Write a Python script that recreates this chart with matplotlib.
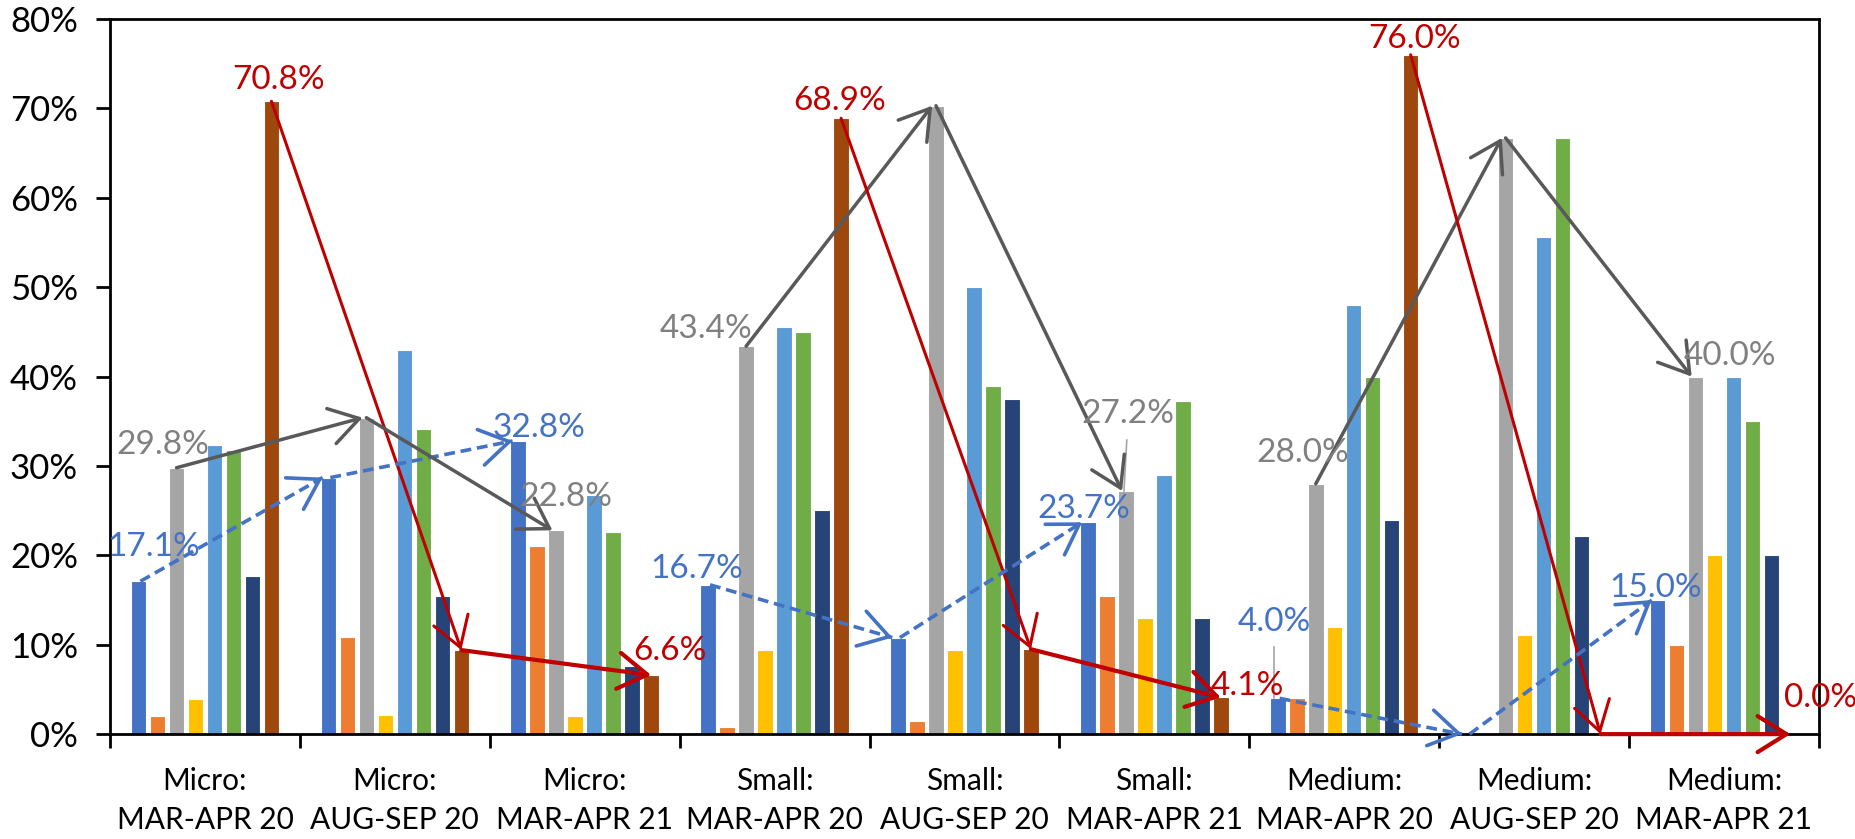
import matplotlib
matplotlib.use("Agg")
import matplotlib.pyplot as plt
import numpy as np

plt.rcParams['font.family'] = ['Lato', 'DejaVu Sans']

groups = ["Micro:\nMAR-APR 20", "Micro:\nAUG-SEP 20", "Micro:\nMAR-APR 21",
          "Small:\nMAR-APR 20", "Small:\nAUG-SEP 20", "Small:\nMAR-APR 21",
          "Medium:\nMAR-APR 20", "Medium:\nAUG-SEP 20", "Medium:\nMAR-APR 21"]

# eight series per group, values in percent
s_blue     = [17.1, 28.7, 32.8, 16.7, 10.8, 23.7, 4.0, 0.0, 15.0]
s_orange   = [2.0, 10.9, 21.0, 0.8, 1.5, 15.4, 4.0, 0.0, 10.0]
s_gray     = [29.8, 35.4, 22.8, 43.4, 70.3, 27.2, 28.0, 66.7, 40.0]
s_yellow   = [3.9, 2.1, 2.0, 9.4, 9.4, 13.0, 12.0, 11.1, 20.0]
s_ltblue   = [32.4, 43.0, 26.8, 45.6, 50.0, 29.0, 48.0, 55.6, 40.0]
s_green    = [31.8, 34.1, 22.6, 45.0, 39.0, 37.3, 40.0, 66.7, 35.0]
s_darkblue = [17.7, 15.4, 7.6, 25.1, 37.5, 13.0, 24.0, 22.2, 20.0]
s_brown    = [70.8, 9.4, 6.6, 68.9, 9.5, 4.1, 76.0, 0.0, 0.0]

series = [s_blue, s_orange, s_gray, s_yellow, s_ltblue, s_green, s_darkblue, s_brown]
colors = ["#4472C4", "#ED7D31", "#A5A5A5", "#FFC000",
          "#5B9BD5", "#70AD47", "#264478", "#9E480E"]

labelled = [0, 2, 3, 5, 6, 8]
# label offsets (x in group units, y in percent) from the bar top
blue_off = {0: (0.08, 3.8), 2: (0.11, 1.5), 3: (-0.06, 1.8), 5: (-0.02, 1.5), 6: (-0.02, 8.5), 8: (-0.01, 1.4)}
gray_off = {0: (-0.07, 2.5), 2: (0.05, 3.7), 3: (-0.21, 1.9), 5: (0.01, 8.6), 6: (-0.07, 3.4), 8: (0.18, 2.3)}
red_off = {0: (0.04, 2.4), 2: (0.10, 2.7), 3: (-0.01, 1.9), 5: (0.14, 1.3), 6: (0.02, 1.8), 8: (0.16, 4.0)}

fig = plt.figure(figsize=(18.56, 8.39), dpi=100)
ax = fig.add_axes([0.0593, 0.125, 0.9207, 0.8523])

x = np.arange(len(groups))
slot, width = 0.1, 0.082
for k, (vals, c) in enumerate(zip(series, colors)):
    ax.bar(x + (k - 3.5) * slot, vals, width=width, color=c,
           edgecolor="white", linewidth=0.8, zorder=2)

ax.set_xlim(-0.5, len(groups) - 0.5)
ax.set_ylim(0, 80)
ax.set_yticks(np.arange(0, 81, 10))
ax.set_yticklabels([f"{v}%" for v in range(0, 81, 10)])
ax.set_xticks(np.arange(-0.5, len(groups), 1.0))
ax.set_xticklabels([])
ax.set_xticks(x, minor=True)
ax.set_xticklabels(groups, minor=True, linespacing=1.45)
ax.tick_params(axis="x", which="major", length=10, width=2, direction="out")
ax.tick_params(axis="x", which="minor", length=0, pad=24, labelsize=21.5)
ax.tick_params(axis="y", length=10, width=2, direction="out", labelsize=25, pad=13)
for sp in ax.spines.values():
    sp.set_linewidth(2)


def bx(g, k):
    return g + (k - 3.5) * slot


HEAD = "->,head_length=0.8,head_width=0.5"


def arrow(x0, y0, x1, y1, color, lw):
    ax.annotate("", xy=(x1, y1), xytext=(x0, y0),
                arrowprops=dict(arrowstyle=HEAD, color=color, lw=lw,
                                shrinkA=0, shrinkB=0, mutation_scale=26),
                zorder=5, annotation_clip=False)


def dashed_arrow(x0, y0, x1, y1, color, lw):
    # dashed shaft, solid head
    ax.plot([x0, x1], [y0, y1], color=color, lw=lw, ls=(0, (3, 1.6)),
            zorder=5, solid_capstyle="butt", clip_on=False)
    t = 0.97
    arrow(x0 + t * (x1 - x0), y0 + t * (y1 - y0), x1, y1, color, lw)


# trend arrows within each size class
for start in (0, 3, 6):
    for g in (start, start + 1):
        dashed_arrow(bx(g, 0) + 0.01, s_blue[g], bx(g + 1, 0) - 0.03, s_blue[g + 1], "#4472C4", 2.6)
        arrow(bx(g, 2), s_gray[g], bx(g + 1, 2) - 0.02, s_gray[g + 1], "#595959", 2.5)
        lw = 2.2 if g == start else 3.0
        arrow(bx(g, 7), s_brown[g], bx(g + 1, 7), s_brown[g + 1], "#C00000", lw)

# value labels
for g in labelled:
    dx, dy = blue_off[g]
    ax.text(bx(g, 0) + dx, s_blue[g] + dy, f"{s_blue[g]:.1f}%", color="#4472C4",
            fontsize=24, ha="center", va="center", zorder=6)
    dx, dy = gray_off[g]
    ax.text(bx(g, 2) + dx, s_gray[g] + dy, f"{s_gray[g]:.1f}%", color="#808080",
            fontsize=24, ha="center", va="center", zorder=6)
    dx, dy = red_off[g]
    ax.text(bx(g, 7) + dx, s_brown[g] + dy, f"{s_brown[g]:.1f}%", color="#C00000",
            fontsize=24, ha="center", va="center", zorder=6, clip_on=False)

# leader lines for the two labels moved away from their bars
ax.plot([bx(5, 2) - 0.01, bx(5, 2) + 0.005], [s_gray[5], s_gray[5] + 5.7], color="#A5A5A5", lw=1.2, zorder=4)
ax.plot([bx(6, 0) - 0.02, bx(6, 0) - 0.02], [s_blue[6], s_blue[6] + 5.7], color="#A5A5A5", lw=1.2, zorder=4)

fig.savefig("out.png", dpi=100)
